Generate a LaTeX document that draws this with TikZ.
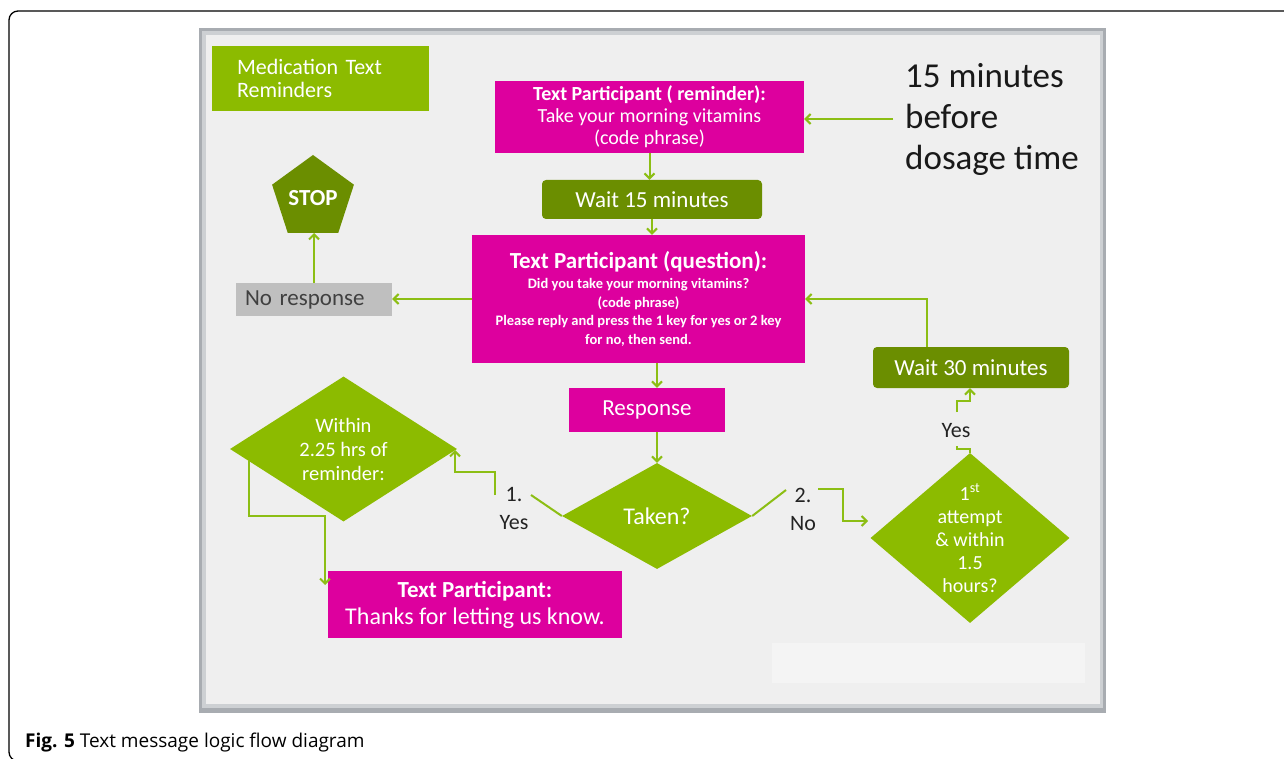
\documentclass[tikz,border=0pt]{standalone}
\usepackage{fontspec}
\setmainfont{Carlito}
\newfontfamily\capfont{Open Sans}
\usetikzlibrary{shapes.geometric,arrows.meta,calc}
\definecolor{lime}{RGB}{140,187,0}
\definecolor{dkgreen}{RGB}{107,142,0}
\definecolor{pinkbox}{RGB}{221,0,158}
\definecolor{greybox}{RGB}{191,191,191}
\definecolor{greytext}{RGB}{64,64,64}
\definecolor{arrowgreen}{RGB}{140,190,20}
\definecolor{labelgrey}{RGB}{35,35,35}
\definecolor{slidebg}{RGB}{239,239,239}
\definecolor{slideframe}{RGB}{168,172,177}
\definecolor{slideframein}{RGB}{205,208,211}
\definecolor{slidepatch}{RGB}{244,244,244}
\begin{document}
\begin{tikzpicture}[x=1pt,y=-1pt,
  box/.style={rectangle, inner sep=0pt, text=white, align=center},
  pinkrect/.style={box, fill=pinkbox},
  greenrect/.style={box, fill=dkgreen, rounded corners=4pt},
  decision/.style={diamond, fill=lime, inner sep=0pt},
  dtext/.style={text=white, align=center, inner sep=0pt},
  conn/.style={draw=arrowgreen, line width=2pt},
  arr/.style={conn, -{Straight Barb[length=5pt,width=10pt]}},
  lab/.style={text=labelgrey, align=center, inner sep=0pt, font=\fontsize{22}{28}\selectfont}
]
\useasboundingbox (0,0) rectangle (1284,759);
% outer frame
\draw[line width=1.3pt, rounded corners=9pt] (9,11) rectangle (1310,761);
% slide
\fill[slideframe] (199,28) rectangle (1106,713);
\fill[slideframein] (202,31) rectangle (1103,708);
\fill[slidebg] (206,35) rectangle (1100,704);
\fill[slidepatch] (772,643) rectangle (1085,683);

% nodes
\node[box, fill=lime, minimum width=217pt, minimum height=65pt, text width=167pt,
      inner xsep=25pt, align=left, font=\fontsize{22}{23}\selectfont] (title) at (320.5,78.5)
      {Medication Text\\Reminders};

\node[pinkrect, minimum width=309pt, minimum height=72pt, font=\fontsize{20}{22}\selectfont]
  (reminder) at (649.5,117)
  {\bfseries Text Participant ( reminder):\\
   Take your morning vitamins\\
   (code phrase)};

\node[anchor=west, inner sep=0pt, inner xsep=12pt, align=left, text=black!90,
      font=\fontsize{35}{41}\selectfont] (mins) at (893,119)
      {15 minutes\\before\\dosage time};

\node[greenrect, minimum width=220pt, minimum height=39pt, font=\fontsize{23}{23}\selectfont]
  (wait15) at (652,199.5) {Wait 15 minutes};

\node[pinkrect, minimum width=333pt, minimum height=128pt, font=\fontsize{14.5}{18.7}\selectfont\bfseries]
  (question) at (638.5,299)
  {{\fontsize{23}{24}\selectfont Text Participant (question):}\\[1pt]
   Did you take your morning vitamins?\\
   (code phrase)\\
   Please reply and press the 1 key for yes or 2 key\\
   for no, then send.};

\node[box, fill=greybox, text=greytext, minimum width=156pt, minimum height=33pt,
      text width=138pt, inner xsep=9pt, align=left, font=\fontsize{23}{23}\selectfont]
  (noresp) at (314,299.5) {No response};

\node[regular polygon, regular polygon sides=5, minimum size=86pt, fill=dkgreen,
      inner sep=0pt, text=white, font=\bfseries\fontsize{23}{23}\selectfont]
  (stop) at (313,198) {STOP};

\node[pinkrect, minimum width=156pt, minimum height=44pt, font=\fontsize{23}{23}\selectfont]
  (response) at (647,410) {Response};

\node[decision, minimum width=190pt, minimum height=106pt,
      label={[dtext, font=\fontsize{24}{24}\selectfont]center:Taken?}] (taken) at (657,516) {};

\node[decision, minimum width=227pt, minimum height=145pt,
      label={[dtext, font=\fontsize{20.5}{24}\selectfont]center:{Within\\2.25 hrs of\\reminder:}}]
  (within) at (343.5,449) {};

\node[decision, minimum width=199pt, minimum height=170pt,
      label={[dtext, font=\fontsize{20}{23}\selectfont]center:{1\textsuperscript{st}\\attempt\\\& within\\1.5\\hours?}}]
  (attempt) at (970,538) {};

\node[pinkrect, minimum width=294pt, minimum height=67pt, font=\fontsize{24}{27}\selectfont]
  (thanks) at (475,604.5)
  {{\fontsize{23}{27}\selectfont\bfseries Text Participant:}\\
   Thanks for letting us know.};

\node[greenrect, minimum width=196pt, minimum height=41pt, font=\fontsize{23}{23}\selectfont]
  (wait30) at (971,367.5) {Wait 30 minutes};

% branch labels
\node[lab] (yes1) at (514,508) {1.\\Yes};
\node[lab] (no2) at (803,509) {2.\\No};
\node[lab] (yes3) at (956,431) {Yes};

\node[anchor=base west, inner sep=0pt, font=\capfont\fontsize{19}{19}\selectfont]
  (caption) at (25,747) {\textbf{Fig. 5} Text message logic flow diagram};

% helper coordinates
\coordinate (y1a) at (531,495);
\coordinate (y1b) at (495,495);
\coordinate (y1c) at (455,472);
\coordinate (y1d) at (455,450);
\coordinate (w1) at (249,461);
\coordinate (w2) at (325,516);
\coordinate (w3) at (325,585);
\coordinate (n1) at (786,490);
\coordinate (n2) at (818,489);
\coordinate (n3) at (843,521);
\coordinate (n4) at (868,521);
\coordinate (ya) at (957,446);
\coordinate (yb) at (957,412);
\coordinate (yc) at (970,401);

% connectors
\draw[arr] (mins.west) -- (mins.west -| reminder.east);
\draw[arr] (reminder.south) -- (reminder.south |- wait15.north);
\draw[arr] (wait15.south) -- (wait15.south |- question.north);
\draw[arr] (question.west) -- (question.west -| noresp.east);
\draw[arr] (noresp.north) -- (noresp.north |- stop.south);
\draw[arr] (taken.north |- question.south) -- (taken.north |- response.north);
\draw[arr] (taken.north |- response.south) -- (taken.north);
% 1. Yes
\draw[conn] (taken.west) -- (y1a);
\draw[arr] (y1b) |- (y1c) -- (y1d);
% within -> thanks
\draw[arr] (w1) |- (w2) -- (w3);
% 2. No
\draw[conn] (taken.east) -- (n1);
\draw[arr] (n2) -| (n3) -- (n4);
% Yes -> wait 30
\draw[conn] (attempt.north) -- ++(0,-4) -| (ya);
\draw[arr] (yb) |- (yc) -- (yc |- wait30.south);
% wait 30 -> question
\draw[arr] ([xshift=-44pt]wait30.north) |- (question.east);
\end{tikzpicture}
\end{document}
